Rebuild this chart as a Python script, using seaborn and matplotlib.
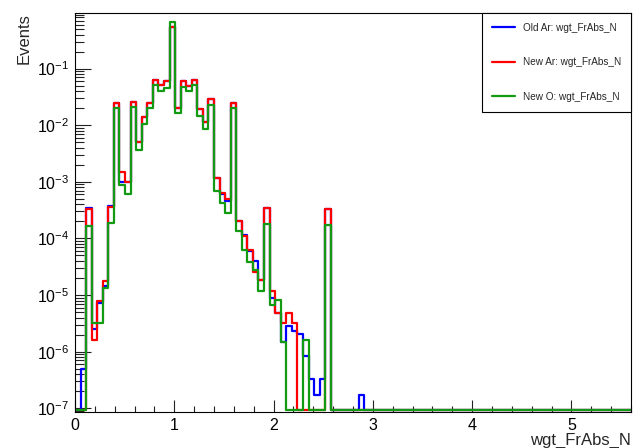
import numpy as np
import pandas as pd
import seaborn as sns
import matplotlib.pyplot as plt
from matplotlib.lines import Line2D
from matplotlib.ticker import MultipleLocator, FixedLocator, LogLocator, NullFormatter

# 100 bins from 0 to 5.6, values for bins 0..51 (rest empty)
n_bins = 100
x_lo, x_hi = 0.0, 5.6

old_ar = [0, 5.0e-7, 3.5e-4, 2.5e-6, 7.1e-6, 1.42e-5, 3.7e-4, 2.45e-2, 1.0e-3, 1.0e-3,
          2.56e-2, 5.0e-3, 1.38e-2, 2.5e-2, 6.4e-2, 5.2e-2, 5.96e-2, 0.535, 2.0e-2, 5.96e-2,
          4.9e-2, 6.4e-2, 1.9e-2, 1.13e-2, 2.93e-2, 1.19e-3, 6.0e-4, 4.6e-4, 2.45e-2, 2.0e-4,
          1.13e-4, 5.9e-5, 4.05e-5, 1.81e-5, 3.5e-4, 8.8e-6, 4.9e-6, 1.5e-6, 2.84e-6, 2.34e-6,
          2.05e-6, 8.4e-7, 3.3e-7, 1.7e-7, 3.3e-7, 3.26e-4, 0, 0, 0, 0,
          0, 1.7e-7]
new_ar = [0, 0, 3.35e-4, 1.6e-6, 8.0e-6, 1.74e-5, 3.6e-4, 2.45e-2, 1.52e-3, 1.0e-3,
          2.56e-2, 5.1e-3, 1.38e-2, 2.5e-2, 6.4e-2, 5.2e-2, 5.96e-2, 0.535, 2.0e-2, 5.96e-2,
          4.9e-2, 6.4e-2, 1.9e-2, 1.13e-2, 2.93e-2, 1.19e-3, 6.3e-4, 4.9e-4, 2.45e-2, 2.0e-4,
          1.1e-4, 6.35e-5, 2.6e-5, 1.81e-5, 3.5e-4, 1.16e-5, 4.8e-6, 3.2e-6, 4.8e-6, 3.2e-6,
          0, 0, 0, 0, 0, 3.26e-4, 0, 0, 0, 0,
          0, 0]
new_o = [0, 0, 1.65e-4, 3.2e-6, 3.2e-6, 1.32e-5, 1.9e-4, 2.0e-2, 8.9e-4, 6.2e-4,
         2.14e-2, 3.64e-3, 1.05e-2, 2.0e-2, 5.06e-2, 4.1e-2, 4.6e-2, 0.656, 1.63e-2, 4.73e-2,
         4.1e-2, 5.06e-2, 1.48e-2, 8.4e-3, 2.3e-2, 6.9e-4, 4.3e-4, 2.77e-4, 2.0e-2, 1.34e-4,
         6.3e-5, 3.8e-5, 2.8e-5, 1.16e-5, 1.77e-4, 6.7e-6, 8.2e-6, 1.5e-6, 0, 0,
         0, 1.6e-6, 0, 0, 0, 1.7e-4, 0, 0, 0, 0,
         0, 0]

labels = ["Old Ar: wgt_FrAbs_N", "New Ar: wgt_FrAbs_N", "New O: wgt_FrAbs_N"]
colors = ["#0000ff", "#ff0000", "#129a12"]

y_lo, y_hi = 8.6e-8, 0.96
y_major = [1e-7, 1e-6, 1e-5, 1e-4, 1e-3, 1e-2, 1e-1]

edges = np.linspace(x_lo, x_hi, n_bins + 1)
centers = 0.5 * (edges[:-1] + edges[1:])

frames = []
for lab, vals in zip(labels, [old_ar, new_ar, new_o]):
    v = np.array(vals + [0.0] * (n_bins - len(vals)), dtype=float)
    # empty bins sit on the bottom of the frame like in ROOT
    v = np.where(v > 0, v, y_lo * 1.07)
    frames.append(pd.DataFrame({"x": centers, "w": v, "series": lab}))
df = pd.concat(frames, ignore_index=True)

sns.set_style("ticks")
plt.rcParams["font.family"] = ["Liberation Sans", "DejaVu Sans"]
plt.rcParams["mathtext.fontset"] = "custom"
plt.rcParams["mathtext.rm"] = "Liberation Sans"
plt.rcParams["mathtext.it"] = "Liberation Sans:italic"
plt.rcParams["mathtext.default"] = "regular"

fig, ax = plt.subplots(figsize=(6.34, 4.48), dpi=100)
fig.subplots_adjust(left=0.1183, right=0.9953, bottom=0.0804, top=0.971)

for lab, col in zip(labels, colors):
    sns.histplot(data=df[df["series"] == lab], x="x", weights="w", bins=list(edges),
                 element="step", fill=False, color=col, linewidth=1.6, ax=ax)

ax.set_yscale("log")
ax.set_xlim(x_lo, x_hi)
ax.set_ylim(y_lo, y_hi)

ax.xaxis.set_major_locator(MultipleLocator(1))
ax.xaxis.set_minor_locator(MultipleLocator(0.2))
ax.yaxis.set_major_locator(FixedLocator(y_major))
ax.yaxis.set_minor_locator(LogLocator(base=10, subs=np.arange(2, 10), numticks=100))
ax.yaxis.set_minor_formatter(NullFormatter())

ax.tick_params(axis="both", which="both", direction="in", width=0.8, colors="#222222",
               labelcolor="black", labelsize=11.5)
ax.tick_params(axis="x", which="major", length=8.6, pad=4)
ax.tick_params(axis="x", which="minor", length=4.3)
ax.tick_params(axis="y", which="major", length=11.5, pad=4)
ax.tick_params(axis="y", which="minor", length=6.5)

for s in ax.spines.values():
    s.set_linewidth(0.8)
    s.set_color("black")

ax.set_xlabel("wgt_FrAbs_N", loc="right", fontsize=12, labelpad=0)
ax.set_ylabel("Events", loc="top", fontsize=12, labelpad=4)

handles = [Line2D([], [], color=c, linewidth=1.6) for c in colors]
leg = ax.legend(handles, labels, loc="upper right", bbox_to_anchor=(1, 1),
                borderaxespad=0, fontsize=7.2, labelspacing=2.45, handlelength=2.3,
                handletextpad=0.75, borderpad=1.0, fancybox=False, framealpha=1)
leg.get_frame().set_edgecolor("black")
leg.get_frame().set_linewidth(0.8)

fig.savefig("out.png", dpi=100)
